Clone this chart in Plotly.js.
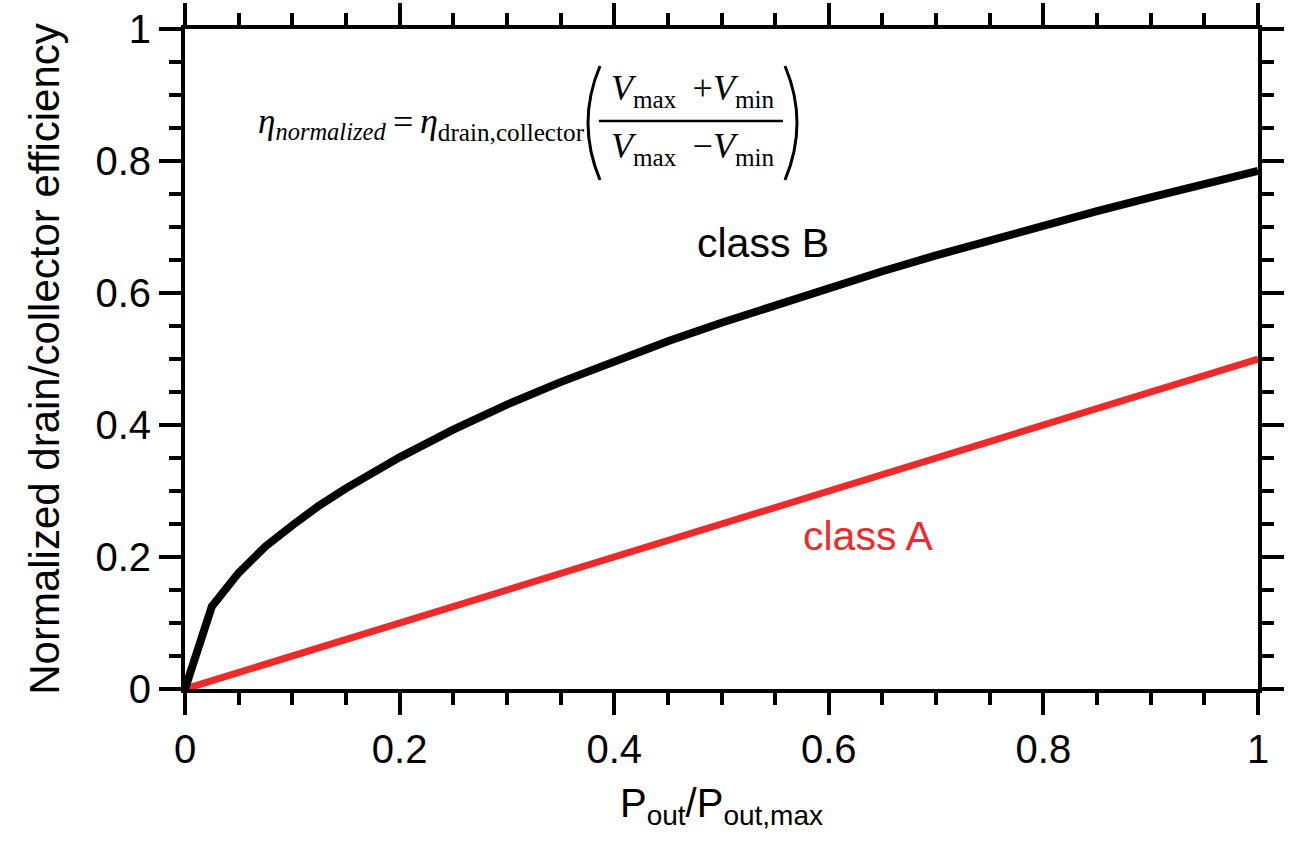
<!DOCTYPE html>
<html>
<head>
<meta charset="utf-8">
<script src="https://cdn.plot.ly/plotly-3.0.1.min.js"></script>
<style>html,body{margin:0;padding:0;background:#fff;}#chart{width:1292px;height:848px;}</style>
</head>
<body>
<div id="chart"></div>
<script>
// Data
const pRatioB = [0, 0.025, 0.05, 0.075, 0.1, 0.125, 0.15, 0.175, 0.2, 0.25, 0.3, 0.35, 0.4, 0.45, 0.5, 0.55, 0.6, 0.65, 0.7, 0.75, 0.8, 0.85, 0.9, 0.95, 1];
const effB    = [0, 0.125, 0.176, 0.216, 0.248, 0.278, 0.304, 0.329, 0.351, 0.393, 0.431, 0.465, 0.497, 0.527, 0.555, 0.582, 0.608, 0.633, 0.657, 0.680, 0.702, 0.724, 0.745, 0.765, 0.785];
const pRatioA = [0, 0.1, 0.2, 0.3, 0.4, 0.5, 0.6, 0.7, 0.8, 0.9, 1];
const effA    = [0, 0.05, 0.1, 0.15, 0.2, 0.25, 0.3, 0.35, 0.4, 0.45, 0.5];
const xTickVals = [0, 0.2, 0.4, 0.6, 0.8, 1];
const xTickText = ['0', '0.2', '0.4', '0.6', '0.8', '1'];
const yTickVals = [0, 0.2, 0.4, 0.6, 0.8, 1];
const yTickText = ['0', '0.2', '0.4', '0.6', '0.8', '1'];

const SANS = 'Arial, "Liberation Sans", Helvetica, sans-serif';
const SERIF = '"Times New Roman", "Liberation Serif", Times, serif';

// plot-area geometry (pixels) used to place decorations in paper units
const L = 185, R = 1258, T = 29, B = 689;
const px = v => (v - L) / (R - L);
const py = v => (B - v) / (B - T);

const traces = [
  {x: pRatioA, y: effA, mode: 'lines', name: 'class A', line: {color: '#ee2a2a', width: 7}, hoverinfo: 'skip'},
  {x: pRatioB, y: effB, mode: 'lines', name: 'class B', line: {color: '#000000', width: 8}, hoverinfo: 'skip'}
];

const axisCommon = {
  range: [0, 1],
  showgrid: false,
  zeroline: false,
  showline: true,
  linecolor: '#000',
  linewidth: 4,
  mirror: 'allticks',
  ticks: 'outside',
  ticklen: 22,
  tickwidth: 4,
  tickcolor: '#000',
  tickfont: {family: SANS, size: 40, color: '#000'},
  minor: {dtick: 0.05, tick0: 0, ticks: 'outside', ticklen: 12, tickwidth: 4, tickcolor: '#000', showgrid: false},
  fixedrange: true
};

function ann(x, y, text, size, opts) {
  return Object.assign({xref: 'paper', yref: 'paper', x: px(x), y: py(y), xanchor: 'left', yanchor: 'middle',
    showarrow: false, text: text, font: {family: SERIF, size: size, color: '#000'}}, opts || {});
}

const layout = {
  width: 1292, height: 848,
  margin: {l: 185, r: 34, t: 29, b: 159},
  paper_bgcolor: '#fff', plot_bgcolor: '#fff',
  showlegend: false,
  xaxis: Object.assign({}, axisCommon, {
    tickmode: 'array', tickvals: xTickVals, ticktext: xTickText,
    title: {text: 'P<sub>out</sub>/P<sub>out,max</sub>', font: {family: SANS, size: 40, color: '#000'}, standoff: 20}
  }),
  yaxis: Object.assign({}, axisCommon, {
    tickmode: 'array', tickvals: yTickVals, ticktext: yTickText,
    title: {text: 'Normalized drain/collector efficiency', font: {family: SANS, size: 42, color: '#000'}, standoff: 24}
  }),
  annotations: [
    ann(256, 124, '<i>η<sub>normalized</sub></i>', 35),
    ann(403, 122, '=', 36, {xanchor: 'center'}),
    ann(418, 124, '<i>η</i><sub>drain,collector</sub>', 36),
    ann(692, 90, '<i>V</i><sub>max</sub> \u2009+<i>V</i><sub>min</sub>', 36, {xanchor: 'center'}),
    ann(692, 149, '<i>V</i><sub>max</sub> \u2009−<i>V</i><sub>min</sub>', 36, {xanchor: 'center'}),
    {xref: 'paper', yref: 'paper', x: px(763), y: py(243), xanchor: 'center', yanchor: 'middle', showarrow: false,
     text: 'class B', font: {family: SANS, size: 41, color: '#000'}},
    {xref: 'paper', yref: 'paper', x: px(868), y: py(536), xanchor: 'center', yanchor: 'middle', showarrow: false,
     text: 'class A', font: {family: SANS, size: 41, color: '#ee2a2a'}}
  ],
  shapes: [
    {type: 'line', xref: 'paper', yref: 'paper', x0: px(599), x1: px(783), y0: py(121), y1: py(121), line: {color: '#000', width: 2.5}},
    {type: 'path', xref: 'paper', yref: 'paper',
     path: `M ${px(600)} ${py(66)} Q ${px(576)} ${py(123)} ${px(600)} ${py(180)}`, line: {color: '#000', width: 3}},
    {type: 'path', xref: 'paper', yref: 'paper',
     path: `M ${px(785)} ${py(66)} Q ${px(809)} ${py(123)} ${px(785)} ${py(180)}`, line: {color: '#000', width: 3}}
  ]
};

Plotly.newPlot('chart', traces, layout, {staticPlot: true, displayModeBar: false});
</script>
</body>
</html>
